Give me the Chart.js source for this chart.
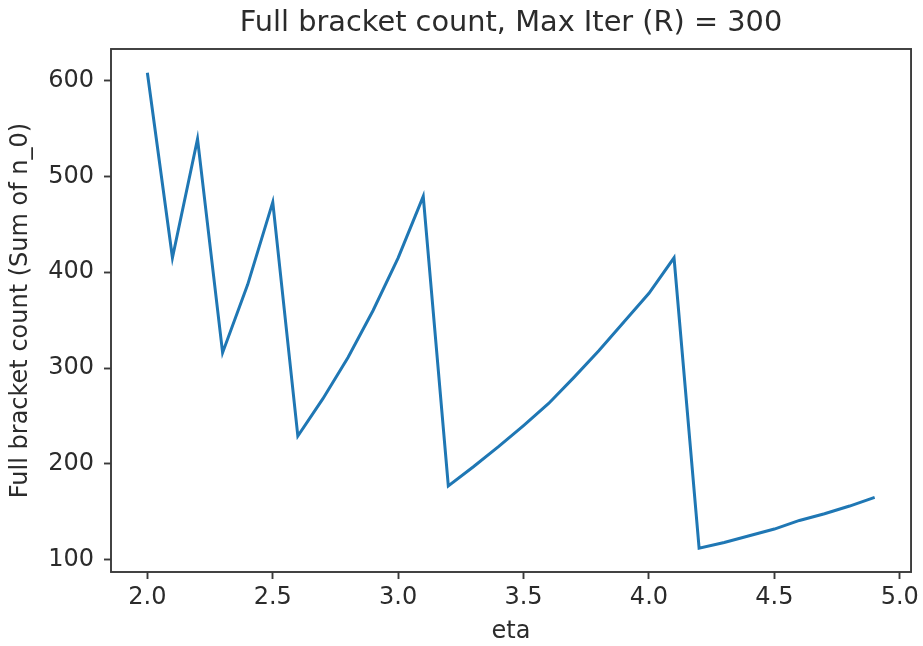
<!DOCTYPE html>
<html>
<head>
<meta charset="utf-8">
<script src="https://cdn.jsdelivr.net/npm/chart.js@4/dist/chart.umd.min.js"></script>
<style>
  html, body { margin: 0; padding: 0; background: #fff; }
  #wrap { width: 923px; height: 646px; }
</style>
</head>
<body>
<div id="wrap"><canvas id="bracket_chart" width="923" height="646"></canvas></div>
<script>
// eta values and the full bracket count for each (R = 300)
const etas = [2.0, 2.1, 2.2, 2.3, 2.4, 2.5, 2.6, 2.7, 2.8, 2.9,
              3.0, 3.1, 3.2, 3.3, 3.4, 3.5, 3.6, 3.7, 3.8, 3.9,
              4.0, 4.1, 4.2, 4.3, 4.4, 4.5, 4.6, 4.7, 4.8, 4.9];
const bracketCounts = [608, 415, 539, 316, 387, 473, 229, 268, 311, 360,
                       415, 479, 177, 197, 218, 240, 263, 290, 318, 348,
                       378, 415, 112, 118, 125, 132, 141, 148, 156, 165];

const xTicks = [2.0, 2.5, 3.0, 3.5, 4.0, 4.5, 5.0];
const yTicks = [100, 200, 300, 400, 500, 600];

const FONT = '"DejaVu Sans", "Liberation Sans", sans-serif';
const TEXT = '#2b2b2b';

// matplotlib style box round the axes
const frame = {
    id: 'frame',
    afterDatasetsDraw(chart) {
        const a = chart.chartArea;
        const ctx = chart.ctx;
        ctx.save();
        ctx.strokeStyle = '#3a3a3a';
        ctx.lineWidth = 1.9;
        ctx.strokeRect(a.left, a.top, a.right - a.left, a.bottom - a.top);
        ctx.restore();
    }
};

let points = [];
etas.map((eta, i) => {
    points.push({x: eta, y: bracketCounts[i]});
});

const ctx = document.getElementById('bracket_chart').getContext('2d');

const config = {
    type: 'line',
    data: {
        datasets: [{
            data: points,
            borderColor: '#1f77b4',
            backgroundColor: '#1f77b4',
            borderWidth: 3,
            pointRadius: 0,
            tension: 0,
            fill: false,
        }]
    },
    options: {
        responsive: false,
        animation: false,
        layout: { padding: { left: 0, right: 9, top: 0, bottom: 0 } },
        plugins: {
            legend: { display: false },
            tooltip: { enabled: false },
            title: { display: false }
        },
        scales: {
            // top axis only carries the chart title, centred over the plot like matplotlib
            top: {
                type: 'linear',
                position: 'top',
                min: 1.855,
                max: 5.045,
                afterFit: (scale) => { scale.height = 49; },
                grid: { display: false },
                border: { display: false },
                ticks: { display: false },
                title: {
                    display: true,
                    text: 'Full bracket count, Max Iter (R) = 300',
                    color: TEXT,
                    font: { family: FONT, size: 28.8, weight: 'normal', lineHeight: 1.2 },
                    padding: { top: 6, bottom: 0 }
                }
            },
            x: {
                type: 'linear',
                min: 1.855,
                max: 5.045,
                afterBuildTicks: (scale) => { scale.ticks = xTicks.map(v => ({value: v})); },
                afterFit: (scale) => { scale.height = 74; },
                grid: { display: true, drawOnChartArea: false, drawTicks: true, tickLength: 7, tickWidth: 1.9, tickColor: '#3a3a3a' },
                border: { display: false },
                ticks: {
                    color: TEXT,
                    padding: 4,
                    maxRotation: 0,
                    font: { family: FONT, size: 24 },
                    callback: (v) => Number(v).toFixed(1)
                },
                title: {
                    display: true,
                    text: 'eta',
                    color: TEXT,
                    font: { family: FONT, size: 24, lineHeight: 1.2 },
                    padding: { top: 0, bottom: 0 }
                }
            },
            y: {
                type: 'linear',
                min: 87.2,
                max: 632.8,
                afterBuildTicks: (scale) => { scale.ticks = yTicks.map(v => ({value: v})); },
                afterFit: (scale) => { scale.width = 111; },
                grid: { display: true, drawOnChartArea: false, drawTicks: true, tickLength: 7, tickWidth: 1.9, tickColor: '#3a3a3a' },
                border: { display: false },
                ticks: {
                    color: TEXT,
                    padding: 10,
                    font: { family: FONT, size: 24 },
                    callback: (v) => String(v)
                },
                title: {
                    display: true,
                    text: 'Full bracket count (Sum of n_0)',
                    color: TEXT,
                    font: { family: FONT, size: 24, lineHeight: 1.2 },
                    padding: { top: 6, bottom: 0 }
                }
            }
        }
    },
    plugins: [frame]
};

const chart = new Chart(ctx, config);
</script>
</body>
</html>
